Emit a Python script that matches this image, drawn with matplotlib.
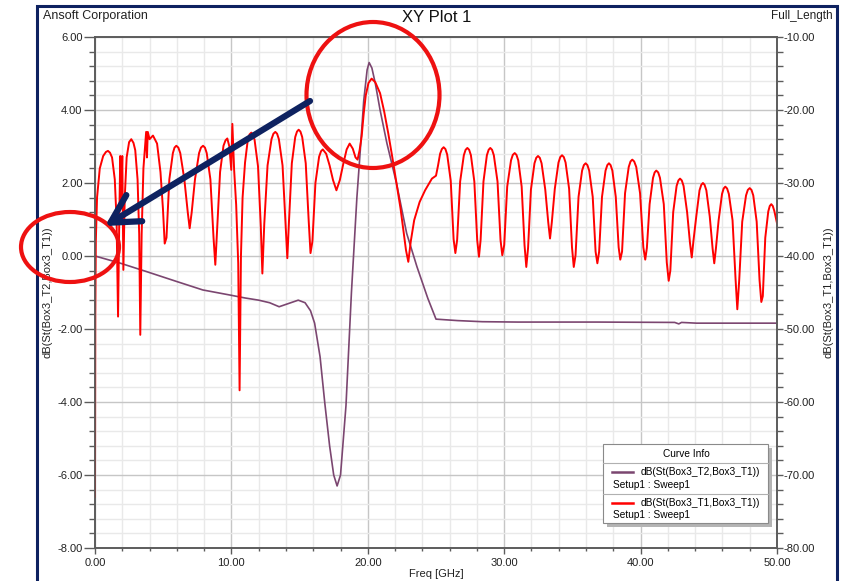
import matplotlib
matplotlib.use("Agg")
import matplotlib.pyplot as plt
from matplotlib.patches import Ellipse, Rectangle, FancyArrowPatch
from matplotlib.lines import Line2D
from matplotlib.ticker import MultipleLocator, FormatStrFormatter

plt.rcParams['font.family'] = ['Liberation Sans', 'DejaVu Sans']
plt.rcParams['axes.unicode_minus'] = False

# S21 (left axis, dB)
t2_freq = [0.0, 1.8, 3.8, 6.0, 7.9, 9.9, 11.0, 12.0, 12.8, 13.5, 14.2, 14.9, 15.4, 15.8,
           16.1, 16.5, 16.85, 17.2, 17.5, 17.75, 18.0, 18.4, 18.8, 19.2, 19.45, 19.7, 19.95,
           20.1, 20.3, 20.55, 20.9, 21.4, 22.1, 22.85, 23.6, 24.4, 25.0, 26.6, 28.4, 31.0,
           36.8, 42.5, 42.8, 43.0, 44.1, 50.0]
t2_db = [0.0, -0.19, -0.43, -0.70, -0.93, -1.07, -1.15, -1.21, -1.28, -1.39, -1.30, -1.21,
         -1.28, -1.50, -1.84, -2.76, -4.04, -5.2, -6.0, -6.3, -6.0, -4.1, -1.0, 1.6, 2.9,
         4.25, 5.1, 5.3, 5.15, 4.73, 4.0, 3.09, 2.0, 0.62, -0.29, -1.16, -1.73, -1.77, -1.80,
         -1.81, -1.81, -1.82, -1.86, -1.82, -1.84, -1.84]

# S11 (right axis, dB) as (GHz, dB) pairs, one row per ripple lobe
t1_points = [
    (0.00, -73.0), (0.02, -48.0), (0.06, -38.0), (0.15, -32.0), (0.35, -28.0), (0.60, -26.3),
    (0.80, -25.75), (0.95, -25.6), (1.10, -25.85), (1.25, -26.5), (1.45, -29.5), (1.58, -35.0),
    (1.69, -48.3), (1.78, -35.0), (1.85, -26.3), (1.92, -33.0), (2.00, -26.3), (2.08, -41.9),
    (2.18, -32.0), (2.32, -26.5), (2.50, -24.4), (2.66, -24.0), (2.82, -24.5), (2.95, -25.5),
    (3.12, -29.5), (3.24, -37.0), (3.32, -50.8), (3.42, -37.0), (3.55, -28.0), (3.75, -23.0),
    (3.81, -26.5), (3.87, -23.0), (4.00, -24.0), (4.25, -23.5), (4.55, -24.6), (4.80, -28.5),
    (4.98, -33.5), (5.11, -38.3),
    (5.24, -37.5), (5.45, -29.5), (5.71, -25.9), (5.83, -25.15), (5.96, -24.9), (6.11, -25.15),
    (6.25, -25.9), (6.55, -29.5), (6.80, -34.0), (6.94, -36.2),
    (7.09, -34.0), (7.33, -29.5), (7.63, -25.9), (7.77, -25.15), (7.92, -24.9), (8.06, -25.15),
    (8.19, -25.9), (8.46, -29.5), (8.69, -37.5), (8.82, -41.2),
    (8.95, -36.5), (9.17, -28.5), (9.42, -24.9), (9.57, -24.15), (9.70, -23.9), (9.85, -25.0),
    (9.99, -28.2), (10.07, -21.9), (10.20, -28.2), (10.35, -33.0), (10.50, -41.0), (10.60, -58.4),
    (10.70, -40.0), (10.82, -32.0), (11.00, -27.2), (11.20, -24.1), (11.33, -23.35), (11.46, -23.1),
    (11.58, -23.35), (11.70, -24.1), (11.95, -27.7), (12.15, -35.7), (12.27, -42.4),
    (12.41, -35.6), (12.65, -27.6), (12.94, -24.0), (13.08, -23.25), (13.22, -23.0), (13.35, -23.25),
    (13.48, -24.0), (13.75, -27.6), (13.97, -35.6), (14.10, -40.3),
    (14.22, -35.3), (14.43, -27.3), (14.68, -23.7), (14.81, -22.95), (14.93, -22.7), (15.06, -22.95),
    (15.19, -23.7), (15.45, -27.3), (15.67, -35.3), (15.80, -39.6),
    (15.94, -38.0), (16.16, -30.0), (16.43, -26.4), (16.57, -25.65), (16.70, -25.4), (16.95, -26.0),
    (17.20, -27.6), (17.45, -29.6), (17.70, -31.0), (17.95, -29.6), (18.20, -27.4), (18.45, -25.4),
    (18.67, -24.6),
    (18.90, -25.3), (19.10, -26.5), (19.25, -26.8), (19.40, -25.5), (19.55, -23.6), (19.70, -20.5),
    (19.85, -18.0), (20.05, -16.3), (20.28, -15.7), (20.55, -16.2), (20.90, -17.7), (21.20, -20.2),
    (21.50, -23.2), (21.80, -26.5), (22.10, -30.0), (22.40, -33.5), (22.60, -36.4), (22.80, -39.2),
    (22.97, -40.8),
    (23.15, -38.0), (23.40, -35.1), (23.80, -32.6), (24.20, -31.0), (24.70, -29.4), (25.00, -29.0),
    (25.15, -27.6), (25.30, -26.0), (25.43, -25.35), (25.56, -25.1),
    (25.69, -25.35), (25.82, -26.1), (26.08, -29.7), (26.29, -37.7), (26.42, -39.6),
    (26.55, -37.8), (26.77, -29.8), (27.04, -26.2), (27.17, -25.45), (27.30, -25.2), (27.43, -25.45),
    (27.56, -26.2), (27.81, -29.8), (28.02, -37.8), (28.15, -40.1),
    (28.27, -37.8), (28.48, -29.8), (28.73, -26.2), (28.86, -25.45), (28.98, -25.2), (29.11, -25.45),
    (29.24, -26.2), (29.51, -29.8), (29.73, -37.8), (29.86, -39.9),
    (30.00, -38.5), (30.22, -30.5), (30.50, -26.9), (30.63, -26.15), (30.77, -25.9), (30.90, -26.15),
    (31.03, -26.9), (31.28, -30.5), (31.49, -38.5), (31.62, -41.5),
    (31.75, -38.9), (31.96, -30.9), (32.22, -27.3), (32.35, -26.55), (32.48, -26.3), (32.61, -26.55),
    (32.74, -27.3), (33.01, -30.9), (33.23, -35.4), (33.36, -37.6),
    (33.49, -35.4), (33.71, -30.8), (33.98, -27.2), (34.11, -26.45), (34.24, -26.2), (34.37, -26.45),
    (34.50, -27.2), (34.76, -30.8), (34.97, -38.8), (35.10, -41.5),
    (35.23, -39.9), (35.45, -31.9), (35.71, -28.3), (35.84, -27.55), (35.97, -27.3), (36.10, -27.55),
    (36.23, -28.3), (36.49, -31.9), (36.70, -39.4), (36.83, -41.0),
    (36.96, -39.4), (37.17, -31.9), (37.43, -28.3), (37.56, -27.55), (37.68, -27.3), (37.80, -27.55),
    (37.93, -28.3), (38.18, -31.9), (38.39, -38.8), (38.51, -40.5),
    (38.64, -39.4), (38.86, -31.4), (39.13, -27.8), (39.26, -27.05), (39.39, -26.8), (39.53, -27.05),
    (39.68, -27.8), (39.96, -31.4), (40.20, -38.8), (40.34, -40.5),
    (40.46, -38.9), (40.66, -32.9), (40.91, -29.3), (41.03, -28.55), (41.15, -28.3), (41.29, -28.55),
    (41.42, -29.3), (41.70, -32.9), (41.92, -40.9), (42.06, -43.4),
    (42.18, -42.0), (42.39, -34.0), (42.64, -30.4), (42.77, -29.65), (42.89, -29.4), (43.02, -29.65),
    (43.15, -30.4), (43.41, -34.0), (43.62, -38.2), (43.75, -40.2),
    (43.87, -38.0), (44.08, -34.6), (44.32, -31.0), (44.45, -30.25), (44.57, -30.0), (44.69, -30.25),
    (44.82, -31.0), (45.07, -34.6), (45.28, -39.0), (45.40, -41.0),
    (45.52, -39.0), (45.72, -35.1), (45.97, -31.5), (46.09, -30.75), (46.21, -30.5), (46.34, -30.75),
    (46.47, -31.5), (46.74, -35.1), (46.96, -43.1), (47.09, -47.3),
    (47.23, -43.3), (47.45, -35.3), (47.73, -31.7), (47.86, -30.95), (48.00, -30.7), (48.13, -30.95),
    (48.26, -31.7), (48.51, -35.3), (48.72, -43.3), (48.85, -46.3),
    (48.96, -45.5), (49.14, -37.5), (49.36, -33.9), (49.47, -33.15), (49.58, -32.9), (49.69, -33.15),
    (49.80, -33.8), (50.00, -35.5),
]
t1_freq = [p[0] for p in t1_points]
t1_db = [p[1] for p in t1_points]

legend_names = ["dB(St(Box3_T2,Box3_T1))", "dB(St(Box3_T1,Box3_T1))"]
sweep_name = "Setup1 : Sweep1"

PURPLE = "#7b4670"
RED = "#ff0000"
NAVY = "#0e2260"

W, H = 843, 581
def fx(px): return px / W
def fy(py): return 1 - py / H

fig = plt.figure(figsize=(W / 100, H / 100), dpi=100)

# outer frame
fig.add_artist(Rectangle((fx(37), fy(600)), (837 - 37) / W, (600 - 6) / H,
                         transform=fig.transFigure, fill=False, edgecolor=NAVY, lw=2.2))

ax = fig.add_axes([fx(95), fy(548), (777 - 95) / W, (548 - 37) / H])
ax2 = ax.twinx()

ax.plot(t2_freq, t2_db, color=PURPLE, lw=1.2)
ax2.plot(t1_freq, t1_db, color=RED, lw=1.4)

ax.set_xlim(0, 50)
ax.set_ylim(-8, 6)
ax2.set_ylim(-80, -10)

ax.xaxis.set_major_locator(MultipleLocator(10))
ax.xaxis.set_minor_locator(MultipleLocator(2))
ax.yaxis.set_major_locator(MultipleLocator(2))
ax.yaxis.set_minor_locator(MultipleLocator(0.4))
ax2.yaxis.set_major_locator(MultipleLocator(10))
ax2.yaxis.set_minor_locator(MultipleLocator(2))
for a in (ax.xaxis, ax.yaxis, ax2.yaxis):
    a.set_major_formatter(FormatStrFormatter('%.2f'))

ax.set_axisbelow(True)
ax.grid(which='minor', color='#e9e9e9', lw=1.0)
ax.grid(which='major', color='#c6c6c6', lw=1.0)

for a in (ax, ax2):
    for s in a.spines.values():
        s.set_color('#5c5c5c')
        s.set_linewidth(1.2)

ax.tick_params(axis='y', which='major', length=8, width=1, pad=1, labelsize=8,
               color='#5c5c5c', labelcolor='#222222')
ax.tick_params(axis='y', which='minor', length=4, width=1, color='#5c5c5c')
ax.tick_params(axis='x', which='major', length=4.5, width=1, pad=2.5, labelsize=8,
               color='#5c5c5c', labelcolor='#222222')
ax.tick_params(axis='x', which='minor', length=2.5, width=1, color='#5c5c5c')
ax2.tick_params(axis='y', which='major', length=4.5, width=1, pad=0.5, labelsize=8,
                color='#5c5c5c', labelcolor='#222222')
ax2.tick_params(axis='y', which='minor', length=4, width=1, color='#5c5c5c')

# header texts and axis titles
fig.text(fx(43), fy(16), "Ansoft Corporation", fontsize=9, ha='left', va='center', color='#222222')
fig.text(fx(437), fy(17), "XY Plot 1", fontsize=12, ha='center', va='center', color='#111111')
fig.text(fx(833), fy(16), "Full_Length", fontsize=8.5, ha='right', va='center', color='#222222')
fig.text(fx(436), fy(574), "Freq [GHz]", fontsize=8, ha='center', va='center', color='#222222')
fig.text(fx(48), fy(292), legend_names[0], fontsize=8, rotation=90, ha='center', va='center',
         color='#222222')
fig.text(fx(829), fy(292), legend_names[1], fontsize=8, rotation=90, ha='center', va='center',
         color='#222222')

# curve info box
fig.add_artist(Rectangle((fx(607), fy(527)), (772 - 607) / W, (527 - 448) / H,
                         transform=fig.transFigure, facecolor='#b4b4b4', edgecolor='none', zorder=5))
fig.add_artist(Rectangle((fx(603), fy(523)), (768 - 603) / W, (523 - 444) / H,
                         transform=fig.transFigure, facecolor='white', edgecolor='#8a8a8a',
                         lw=0.8, zorder=6))
for yy in (463, 493.5):
    fig.add_artist(Line2D([fx(603), fx(768)], [fy(yy), fy(yy)], transform=fig.transFigure,
                          color='#b0b0b0', lw=0.8, zorder=7))
fig.text(fx(686), fy(454), "Curve Info", fontsize=7.3, ha='center', va='center', zorder=8)
for yy, col, name in ((472, PURPLE, legend_names[0]), (503, RED, legend_names[1])):
    fig.add_artist(Line2D([fx(612), fx(633)], [fy(yy), fy(yy)], transform=fig.transFigure,
                          color=col, lw=1.8, zorder=8))
    fig.text(fx(641), fy(yy), name, fontsize=7.3, ha='left', va='center', zorder=8)
    fig.text(fx(613), fy(yy + 12.5), sweep_name, fontsize=7.3, ha='left', va='center', zorder=8)

# callouts
fig.add_artist(Ellipse((fx(373), fy(95)), 133 / W, 146 / H, transform=fig.transFigure,
                       fill=False, edgecolor='#ee1111', lw=3, zorder=10))
fig.add_artist(Ellipse((fx(70), fy(247)), 98 / W, 70 / H, transform=fig.transFigure,
                       fill=False, edgecolor='#ee1111', lw=3, zorder=10))
fig.add_artist(FancyArrowPatch((fx(310), fy(101)), (fx(105), fy(226)),
                               transform=fig.transFigure,
                               arrowstyle='->,head_length=1.0,head_width=0.55',
                               mutation_scale=20, lw=4.5, color=NAVY, zorder=11,
                               shrinkA=0, shrinkB=0))

fig.savefig("out.png", dpi=100)
